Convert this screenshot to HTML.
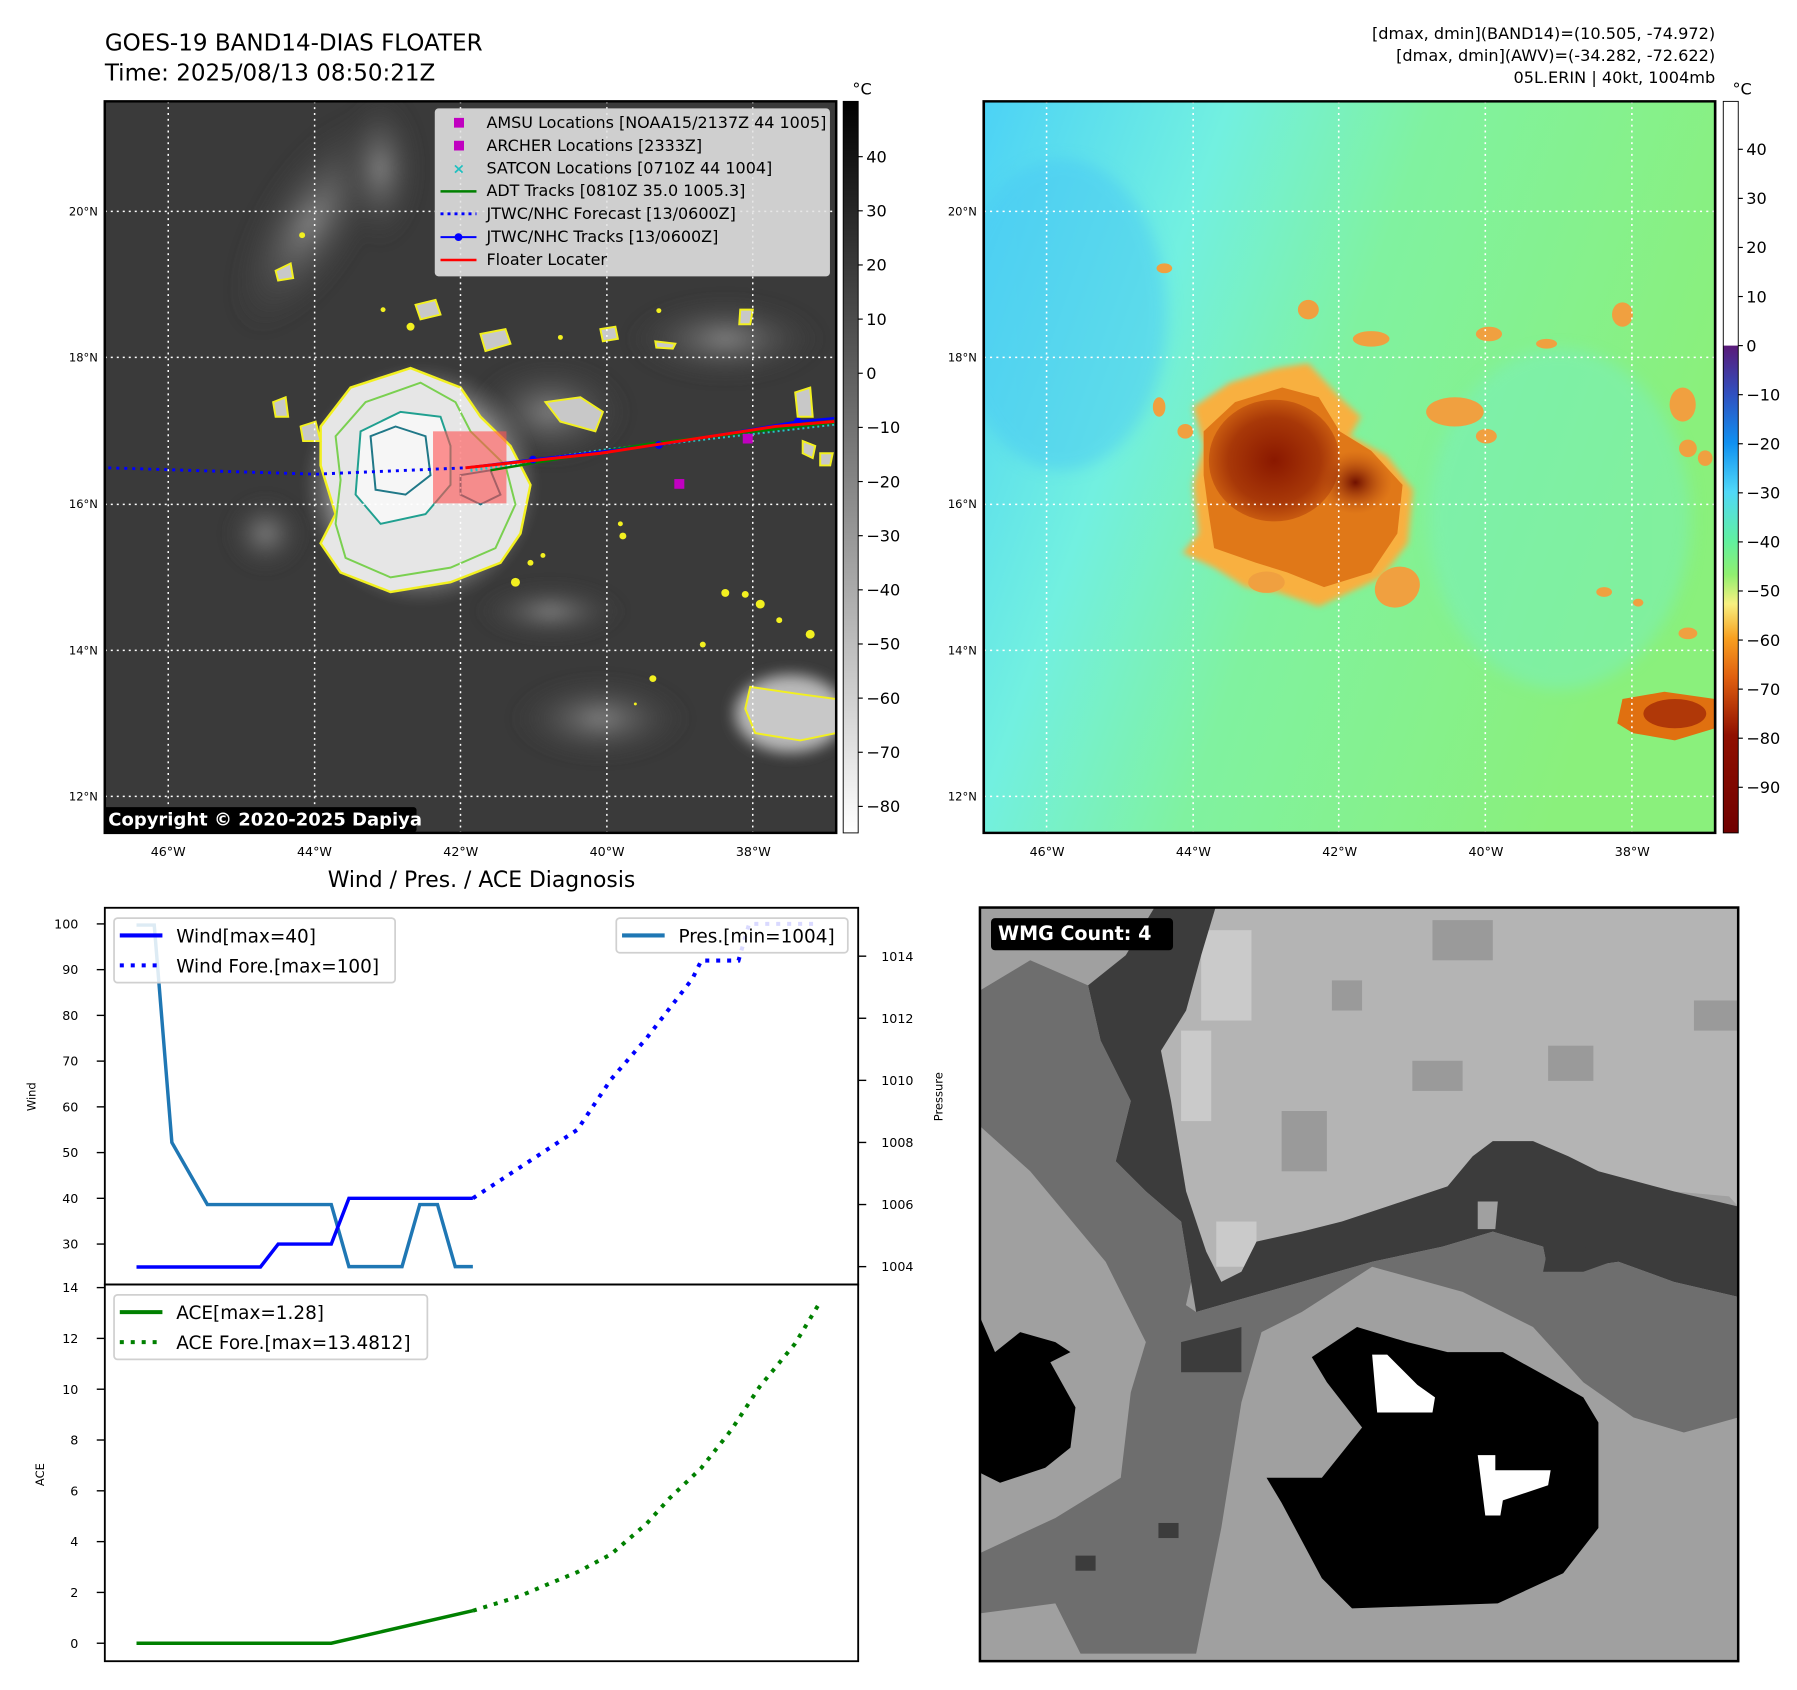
<!DOCTYPE html>
<html><head><meta charset="utf-8"><title>GOES-19 BAND14 Floater</title>
<style>html,body{margin:0;padding:0;background:#fff;}svg{display:block;}text{font-family:"DejaVu Sans","Liberation Sans",sans-serif;}</style></head>
<body>
<svg id="fig" width="1797" height="1690" viewBox="0 0 1560 1467" preserveAspectRatio="none" xmlns="http://www.w3.org/2000/svg">
<defs>
<linearGradient id="cbGray" x1="0" y1="0" x2="0" y2="1"><stop offset="0" stop-color="#000"/><stop offset="1" stop-color="#fff"/></linearGradient>
<linearGradient id="cbTop" x1="0" y1="0" x2="0" y2="1"><stop offset="0" stop-color="#fff"/><stop offset="1" stop-color="#fff"/></linearGradient>
<linearGradient id="cbJet" x1="0" y1="0" x2="0" y2="1">
<stop offset="0" stop-color="#5a1a78"/><stop offset="0.1" stop-color="#3050c0"/><stop offset="0.2" stop-color="#1090f0"/><stop offset="0.3" stop-color="#50d8f8"/><stop offset="0.4" stop-color="#60f0a0"/><stop offset="0.47" stop-color="#90f070"/><stop offset="0.53" stop-color="#f8f080"/><stop offset="0.6" stop-color="#f8a020"/><stop offset="0.68" stop-color="#e06010"/><stop offset="0.8" stop-color="#901000"/><stop offset="1" stop-color="#700000"/></linearGradient>
<linearGradient id="bgRight" x1="0" y1="0" x2="1" y2="0.35"><stop offset="0" stop-color="#4cd2f6"/><stop offset="0.3" stop-color="#72f0e0"/><stop offset="0.55" stop-color="#80f2a0"/><stop offset="1" stop-color="#8af07c"/></linearGradient>
<radialGradient id="stormGray" cx="0.5" cy="0.5" r="0.5"><stop offset="0" stop-color="#f4f4f4"/><stop offset="0.6" stop-color="#d8d8d8"/><stop offset="1" stop-color="#707070" stop-opacity="0"/></radialGradient>
<radialGradient id="cloudGray" cx="0.5" cy="0.5" r="0.5"><stop offset="0" stop-color="#8a8a8a"/><stop offset="1" stop-color="#3a3a3a" stop-opacity="0"/></radialGradient>
<radialGradient id="coreRed" cx="0.5" cy="0.5" r="0.5"><stop offset="0" stop-color="#8a1800"/><stop offset="0.7" stop-color="#a83808"/><stop offset="1" stop-color="#c85a10"/></radialGradient>
<radialGradient id="eyeRed" cx="0.5" cy="0.5" r="0.5"><stop offset="0" stop-color="#701000"/><stop offset="1" stop-color="#b84a10" stop-opacity="0"/></radialGradient>
<filter id="blur6"><feGaussianBlur stdDeviation="6"/></filter>
<filter id="blur15"><feGaussianBlur stdDeviation="15"/></filter>
<clipPath id="clipL"><rect x="8" y="12" width="1464" height="1503"/></clipPath>
<clipPath id="clipR"><rect x="0" y="12" width="1397" height="1503"/></clipPath>
<clipPath id="clipW"><rect x="0" y="15" width="1508" height="1500"/></clipPath>
</defs>

<!-- titles -->
<text x="91" y="44" font-size="20">GOES-19 BAND14-DIAS FLOATER</text>
<text x="91" y="70" font-size="20">Time: 2025/08/13 08:50:21Z</text>
<text x="1489" y="34" font-size="14" text-anchor="end">[dmax, dmin](BAND14)=(10.505, -74.972)</text>
<text x="1489" y="53" font-size="14" text-anchor="end">[dmax, dmin](AWV)=(-34.282, -72.622)</text>
<text x="1489" y="72" font-size="14" text-anchor="end">05L.ERIN | 40kt, 1004mb</text>

<!-- LEFT MAP -->
<g transform="matrix(0.4337 0 0 0.4225 87.5 82.9)">
 <g clip-path="url(#clipL)">
  <rect x="8" y="12" width="1464" height="1503" fill="#3a3a3a"/>
  <g filter="url(#blur15)" opacity="0.9">
   <ellipse cx="420" cy="260" rx="110" ry="260" fill="url(#cloudGray)" transform="rotate(30 420 260)"/>
   <ellipse cx="560" cy="150" rx="80" ry="160" fill="url(#cloudGray)"/>
   <ellipse cx="900" cy="650" rx="160" ry="110" fill="url(#cloudGray)"/>
   <ellipse cx="1250" cy="500" rx="200" ry="90" fill="url(#cloudGray)"/>
   <ellipse cx="1000" cy="1280" rx="180" ry="90" fill="url(#cloudGray)"/>
   <ellipse cx="330" cy="900" rx="80" ry="80" fill="url(#cloudGray)"/>
   <ellipse cx="900" cy="1060" rx="150" ry="60" fill="url(#cloudGray)"/>
   <ellipse cx="1380" cy="1270" rx="110" ry="80" fill="#c8c8c8"/>
  </g>
  <ellipse cx="640" cy="800" rx="240" ry="250" fill="url(#stormGray)" filter="url(#blur6)"/>
  <path d="M440,680 L500,600 L620,560 L720,600 L760,660 L820,720 L860,800 L840,900 L800,960 L700,1000 L580,1020 L480,980 L440,920 L470,860 L440,760 Z" fill="#e6e6e6" stroke="#f2f020" stroke-width="5"/>
  <path d="M470,700 L530,630 L640,590 L710,630 L740,690 L810,760 L830,840 L790,930 L700,970 L580,990 L490,950 L470,880 L480,790 Z" fill="none" stroke="#7ad050" stroke-width="4"/>
  <path d="M520,690 L600,650 L680,660 L700,720 L700,800 L650,860 L560,880 L510,820 Z" fill="#f6f6f6" stroke="#20a090" stroke-width="4"/>
  <path d="M540,700 L590,680 L650,700 L660,780 L610,820 L550,810 Z" fill="none" stroke="#207888" stroke-width="4"/>
  <path d="M720,780 L780,770 L800,820 L760,840 L720,820 Z" fill="none" stroke="#207888" stroke-width="4"/>
  <g fill="#c8c8c8" stroke="#f2f020" stroke-width="4">
   <path d="M630,430 L670,420 L680,450 L640,460 Z"/><path d="M760,490 L810,480 L820,510 L770,525 Z"/>
   <path d="M350,360 L380,345 L385,375 L355,380 Z"/><path d="M345,630 L370,620 L375,660 L350,660 Z"/>
   <path d="M400,680 L430,670 L440,710 L405,710 Z"/><path d="M1000,480 L1030,475 L1035,500 L1005,505 Z"/>
   <path d="M1280,440 L1305,440 L1300,470 L1278,470 Z"/><path d="M890,630 L960,620 L1005,650 L990,690 L920,670 Z"/>
   <path d="M1390,610 L1420,600 L1425,660 L1395,660 Z"/><path d="M1405,710 L1430,720 L1425,745 L1405,735 Z"/>
   <path d="M1440,735 L1465,735 L1460,760 L1440,760 Z"/><path d="M1110,505 L1150,510 L1145,520 L1112,518 Z"/>
   <path d="M1300,1215 L1400,1230 L1472,1240 L1472,1310 L1400,1325 L1310,1310 L1290,1260 Z"/>
  </g>
  <g fill="#f2f020">
   <circle cx="403" cy="287" r="6"/><circle cx="565" cy="440" r="5"/><circle cx="620" cy="475" r="8"/>
   <circle cx="920" cy="497" r="5"/><circle cx="1117" cy="442" r="5"/><circle cx="1040" cy="880" r="5"/>
   <circle cx="1045" cy="905" r="7"/><circle cx="860" cy="960" r="6"/><circle cx="830" cy="1000" r="9"/>
   <circle cx="1250" cy="1022" r="8"/><circle cx="1290" cy="1025" r="7"/><circle cx="1320" cy="1045" r="9"/>
   <circle cx="1358" cy="1078" r="6"/><circle cx="1420" cy="1107" r="9"/><circle cx="1205" cy="1128" r="6"/>
   <circle cx="1105" cy="1198" r="7"/><circle cx="1070" cy="1250" r="3"/><circle cx="885" cy="945" r="5"/>
  </g>
  <!-- grid -->
  <g stroke="#fff" stroke-width="3" stroke-dasharray="4,8">
   <line x1="135" y1="12" x2="135" y2="1515"/><line x1="428" y1="12" x2="428" y2="1515"/><line x1="720" y1="12" x2="720" y2="1515"/><line x1="1013" y1="12" x2="1013" y2="1515"/><line x1="1305" y1="12" x2="1305" y2="1515"/>
   <line x1="8" y1="238" x2="1472" y2="238"/><line x1="8" y1="538" x2="1472" y2="538"/><line x1="8" y1="840" x2="1472" y2="840"/><line x1="8" y1="1140" x2="1472" y2="1140"/><line x1="8" y1="1440" x2="1472" y2="1440"/>
  </g>
  <rect x="665" y="690" width="147" height="148" fill="#ff5050" opacity="0.6"/>
  <polyline points="15,765 430,778 730,765" fill="none" stroke="#0000ff" stroke-width="6" stroke-dasharray="6,10"/>
  <polyline points="740,770 1000,730 1468,675" fill="none" stroke="#20c8c8" stroke-width="7" stroke-dasharray="4,6"/>
  <polyline points="780,770 1100,715 1468,672" fill="none" stroke="#008000" stroke-width="5"/>
  <polyline points="730,765 865,748 1117,718 1395,670 1468,663" fill="none" stroke="#0000ff" stroke-width="5"/>
  <g fill="#0000ff"><circle cx="865" cy="748" r="8"/><circle cx="1117" cy="718" r="8"/><circle cx="1395" cy="670" r="8"/></g>
  <polyline points="730,765 1000,735 1350,680 1468,670" fill="none" stroke="#ff0000" stroke-width="6"/>
  <rect x="1285" y="695" width="20" height="20" fill="#c000c0"/><rect x="1148" y="788" width="20" height="20" fill="#c000c0"/>
  <!-- legend -->
  <g>
   <rect x="670" y="28" width="788" height="342" rx="6" fill="#e4e4e4" fill-opacity="0.88" stroke="#cfcfcf" stroke-width="3"/>
   <g font-size="32" fill="#000">
    <rect x="707" y="46" width="20" height="20" fill="#c000c0"/><text x="772" y="67">AMSU Locations [NOAA15/2137Z 44 1005]</text>
    <rect x="707" y="93" width="20" height="20" fill="#c000c0"/><text x="772" y="114">ARCHER Locations [2333Z]</text>
    <text x="704" y="160" fill="#20c0c0" font-weight="bold" font-size="30">×</text><text x="772" y="160">SATCON Locations [0710Z 44 1004]</text>
    <line x1="680" y1="197" x2="752" y2="197" stroke="#008000" stroke-width="5"/><text x="772" y="207">ADT Tracks [0810Z 35.0 1005.3]</text>
    <line x1="680" y1="243" x2="752" y2="243" stroke="#0000ff" stroke-width="6" stroke-dasharray="6,8"/><text x="772" y="254">JTWC/NHC Forecast [13/0600Z]</text>
    <line x1="680" y1="291" x2="752" y2="291" stroke="#0000ff" stroke-width="4"/><circle cx="716" cy="291" r="8" fill="#0000ff"/><text x="772" y="301">JTWC/NHC Tracks [13/0600Z]</text>
    <line x1="680" y1="338" x2="752" y2="338" stroke="#ff0000" stroke-width="5"/><text x="772" y="348">Floater Locater</text>
   </g>
  </g>
  <g>
   <rect x="5" y="1462" width="627" height="52" rx="6" fill="#000"/>
   <text x="15" y="1500" font-size="36" font-weight="bold" fill="#fff">Copyright © 2020-2025 Dapiya</text>
  </g>
 </g>
 <rect x="8" y="12" width="1464" height="1503" fill="none" stroke="#000" stroke-width="5"/>
</g>
<g font-size="10" text-anchor="end">
 <text x="85" y="187">20°N</text><text x="85" y="314">18°N</text><text x="85" y="441">16°N</text><text x="85" y="568">14°N</text><text x="85" y="695">12°N</text>
</g>
<g font-size="11" text-anchor="middle">
 <text x="146" y="743">46°W</text><text x="273" y="743">44°W</text><text x="400" y="743">42°W</text><text x="527" y="743">40°W</text><text x="654" y="743">38°W</text>
</g>
<g>
 <rect x="732" y="88" width="13" height="635" fill="url(#cbGray)" stroke="#000" stroke-width="0.8"/>
 <text x="740" y="82" font-size="14">°C</text>
 <g font-size="14" id="cbLticks"></g>
</g>

<!-- RIGHT MAP -->
<g transform="matrix(0.4545 0 0 0.4225 854 82.9)">
 <g clip-path="url(#clipR)">
  <rect x="0" y="12" width="1397" height="1503" fill="url(#bgRight)"/>
  <ellipse cx="150" cy="450" rx="200" ry="320" fill="#48c8f4" opacity="0.5" filter="url(#blur15)"/>
  <ellipse cx="1100" cy="870" rx="250" ry="350" fill="#78f0c0" opacity="0.5" filter="url(#blur15)"/>
  <path d="M400,640 L470,590 L560,560 L620,550 L680,620 L720,660 L700,700 L770,740 L820,810 L810,920 L760,990 L680,1030 L640,1050 L560,1020 L500,1010 L440,970 L380,940 L410,900 L400,800 L420,720 Z" fill="#f8b040" filter="url(#blur6)"/>
  <path d="M420,690 L480,630 L570,600 L640,620 L680,690 L740,730 L800,800 L790,900 L740,980 L650,1010 L580,980 L520,960 L440,930 L430,860 L420,780 Z" fill="#e07818"/>
  <ellipse cx="555" cy="750" rx="125" ry="125" fill="url(#coreRed)"/>
  <ellipse cx="710" cy="795" rx="70" ry="65" fill="url(#eyeRed)"/>
  <g fill="#f0a040">
   <ellipse cx="620" cy="440" rx="20" ry="20"/><ellipse cx="740" cy="500" rx="35" ry="16"/><ellipse cx="335" cy="640" rx="12" ry="20"/>
   <ellipse cx="385" cy="690" rx="15" ry="15"/><ellipse cx="900" cy="650" rx="55" ry="30"/><ellipse cx="960" cy="700" rx="20" ry="15"/>
   <ellipse cx="1335" cy="635" rx="25" ry="35"/><ellipse cx="1345" cy="725" rx="17" ry="18"/><ellipse cx="1378" cy="745" rx="14" ry="16"/>
   <ellipse cx="1220" cy="450" rx="20" ry="25"/><ellipse cx="965" cy="490" rx="25" ry="15"/><ellipse cx="1075" cy="510" rx="20" ry="10"/>
   <ellipse cx="345" cy="355" rx="15" ry="10"/><ellipse cx="1185" cy="1020" rx="15" ry="10"/><ellipse cx="1250" cy="1042" rx="10" ry="8"/>
   <ellipse cx="1345" cy="1105" rx="18" ry="12"/><ellipse cx="790" cy="1010" rx="45" ry="40" transform="rotate(-40 790 1010)"/>
   <ellipse cx="540" cy="1000" rx="35" ry="22"/>
  </g>
  <path d="M1220,1240 L1300,1225 L1397,1240 L1397,1300 L1320,1325 L1240,1310 L1210,1290 Z" fill="#e07010"/>
  <ellipse cx="1320" cy="1270" rx="60" ry="30" fill="#b03808"/>
  <g stroke="#fff" stroke-width="3" stroke-dasharray="4,8">
   <line x1="120" y1="12" x2="120" y2="1515"/><line x1="400" y1="12" x2="400" y2="1515"/><line x1="678" y1="12" x2="678" y2="1515"/><line x1="958" y1="12" x2="958" y2="1515"/><line x1="1238" y1="12" x2="1238" y2="1515"/>
   <line x1="0" y1="238" x2="1397" y2="238"/><line x1="0" y1="538" x2="1397" y2="538"/><line x1="0" y1="840" x2="1397" y2="840"/><line x1="0" y1="1140" x2="1397" y2="1140"/><line x1="0" y1="1440" x2="1397" y2="1440"/>
  </g>
 </g>
 <rect x="0" y="12" width="1397" height="1503" fill="none" stroke="#000" stroke-width="5"/>
</g>
<g font-size="10" text-anchor="end">
 <text x="848" y="187">20°N</text><text x="848" y="314">18°N</text><text x="848" y="441">16°N</text><text x="848" y="568">14°N</text><text x="848" y="695">12°N</text>
</g>
<g font-size="11" text-anchor="middle">
 <text x="909" y="743">46°W</text><text x="1036" y="743">44°W</text><text x="1163" y="743">42°W</text><text x="1290" y="743">40°W</text><text x="1417" y="743">38°W</text>
</g>
<g>
 <rect x="1496" y="88" width="13" height="212" fill="#fff"/>
 <rect x="1496" y="300" width="13" height="423" fill="url(#cbJet)"/>
 <rect x="1496" y="88" width="13" height="635" fill="none" stroke="#000" stroke-width="0.8"/>
 <text x="1504" y="82" font-size="14">°C</text>
 <g font-size="14" id="cbRticks"></g>
</g>

<!-- WIND/PRES/ACE CHART -->
<text x="418" y="770" font-size="19" text-anchor="middle">Wind / Pres. / ACE Diagnosis</text>
<g id="chart">
 <rect x="91" y="788" width="654" height="654" fill="#fff"/>
</g>

<!-- WMG PANEL -->
<g transform="matrix(0.4365 0 0 0.4361 850.7 781.25)">
 <g clip-path="url(#clipW)">
  <rect x="0" y="15" width="1508" height="1500" fill="#a0a0a0"/>
  <path d="M470,10 L1508,10 L1508,610 L1490,590 L1380,580 L1230,540 L1170,510 L1100,480 L1020,480 L980,510 L930,570 L810,610 L720,640 L640,660 L550,680 L520,740 L480,760 L450,700 L410,580 L380,400 L360,300 L410,220 L440,110 Z" fill="#b4b4b4"/>
  <g fill="#949494" opacity="0.8">
   <rect x="900" y="40" width="120" height="80"/><rect x="1130" y="290" width="90" height="70"/><rect x="600" y="420" width="90" height="120"/>
   <rect x="860" y="320" width="100" height="60"/><rect x="1420" y="200" width="88" height="60"/><rect x="700" y="160" width="60" height="60"/>
  </g>
  <g fill="#cacaca"><rect x="440" y="60" width="100" height="180"/><rect x="400" y="260" width="60" height="180"/><rect x="470" y="640" width="80" height="90"/></g>
  <path d="M350,10 L470,10 L440,110 L410,220 L360,300 L380,400 L410,580 L450,700 L480,760 L520,740 L550,680 L640,660 L720,640 L810,610 L930,570 L980,510 L1020,480 L1100,480 L1170,510 L1230,540 L1380,580 L1508,610 L1508,790 L1380,760 L1270,720 L1130,740 L1120,690 L1020,660 L920,690 L780,720 L640,760 L500,800 L430,820 L420,760 L400,640 L330,580 L270,520 L300,400 L240,280 L215,170 L290,110 Z" fill="#3c3c3c"/>
  <path d="M430,820 L640,760 L780,720 L920,690 L1020,660 L1120,690 L1130,740 L1270,720 L1380,760 L1508,790 L1508,1030 L1400,1060 L1300,1030 L1200,960 L1100,850 L960,780 L780,730 L640,820 L560,860 L520,1000 L480,1250 L430,1500 L200,1500 L150,1400 L0,1420 L0,1300 L150,1230 L280,1150 L300,980 L330,880 L400,800 Z" fill="#6e6e6e"/>
  <path d="M0,180 L100,120 L215,170 L240,280 L300,400 L270,520 L330,580 L400,640 L420,760 L400,850 L330,880 L250,720 L100,540 L0,450 Z" fill="#6e6e6e"/>
  <path d="M990,600 L1030,600 L1025,655 L990,655 Z" fill="#a0a0a0"/>
  <path d="M1130,690 L1200,690 L1270,715 L1200,740 L1120,740 Z" fill="#3c3c3c"/>
  <path d="M400,880 L520,850 L520,940 L400,940 Z" fill="#3c3c3c"/>
  <path d="M660,910 L750,850 L850,880 L930,900 L1040,900 L1130,950 L1200,990 L1230,1040 L1230,1250 L1160,1340 L1030,1400 L740,1410 L680,1350 L600,1200 L570,1150 L680,1150 L760,1050 L690,960 Z" fill="#000"/>
  <path d="M0,830 L30,900 L80,860 L150,880 L180,900 L140,920 L190,1010 L180,1090 L130,1130 L40,1160 L0,1140 Z" fill="#000"/>
  <path d="M780,905 L810,905 L840,935 L870,965 L905,990 L900,1020 L790,1020 Z" fill="#fff"/>
  <path d="M990,1105 L1025,1105 L1025,1135 L1135,1135 L1130,1165 L1040,1195 L1035,1225 L1005,1225 Z" fill="#fff"/>
  <rect x="355" y="1240" width="40" height="30" fill="#3c3c3c"/><rect x="190" y="1305" width="40" height="30" fill="#3c3c3c"/>
 </g>
 <rect x="0" y="15" width="1508" height="1500" fill="none" stroke="#000" stroke-width="5"/>
 <g>
  <rect x="22" y="36" width="362" height="64" rx="8" fill="#000"/>
  <text x="36" y="80" font-size="38" font-weight="bold" fill="#fff">WMG Count: 4</text>
 </g>
</g>

<script>
// ---- chart data ----
const windT = [0, 7, 8, 11, 12, 19];
const windV = [25, 25, 30, 30, 40, 40];
const windForeT = [19, 24.9, 26.8, 28.8, 31.4, 31.9, 34, 34.6, 38.5];
const windForeV = [40, 55, 66, 75, 88, 92, 92, 100, 100];
const presT = [0, 1, 2, 4, 11, 12, 15, 16, 17, 18, 19];
const presV = [1015, 1015, 1008, 1006, 1006, 1004, 1004, 1006, 1006, 1004, 1004];
const aceT = [0, 11, 19];
const aceV = [0, 0, 1.28];
const aceForeT = [19, 21.6, 23.5, 24.9, 26.8, 28.8, 30.1, 31.9, 33.6, 35.2, 37.2, 38.5];
const aceForeV = [1.28, 1.84, 2.4, 2.8, 3.5, 4.7, 5.7, 6.9, 8.4, 10.1, 11.8, 13.3];
const windTicks = [30, 40, 50, 60, 70, 80, 90, 100];
const presTicks = [1004, 1006, 1008, 1010, 1012, 1014];
const aceTicks = [0, 2, 4, 6, 8, 10, 12, 14];
const cbLeftTicks = [40, 30, 20, 10, 0, -10, -20, -30, -40, -50, -60, -70, -80];
const cbRightTicks = [40, 30, 20, 10, 0, -10, -20, -30, -40, -50, -60, -70, -80, -90];

const NS = 'http://www.w3.org/2000/svg';
const xS = t => 118.5 + 15.37 * t;
const yW = v => 1040.2 - (v - 40) * 3.97;
const yP = p => 830 - (p - 1014) * 26.95;
const yA = a => 1426.4 - a * 22.05;
const chart = document.getElementById('chart');
function mk(tag, attrs, parent) {
  const e = document.createElementNS(NS, tag);
  for (const k in attrs) e.setAttribute(k, attrs[k]);
  (parent || chart).appendChild(e);
  return e;
}
function pts(ts, vs, yf) { return ts.map((t, i) => xS(t).toFixed(1) + ',' + yf(vs[i]).toFixed(1)).join(' '); }

let el;
el = mk('polyline', {points: pts(presT, presV, yP), fill: 'none', stroke: '#1f77b4', 'stroke-width': 3});


el = mk('polyline', {points: pts(windT, windV, yW), fill: 'none', stroke: '#0000ff', 'stroke-width': 3});


el = mk('polyline', {points: pts(windForeT, windForeV, yW), fill: 'none', stroke: '#0000ff', 'stroke-width': 3.5, 'stroke-dasharray': '3.5,6'});


el = mk('polyline', {points: pts(aceT, aceV, yA), fill: 'none', stroke: '#008000', 'stroke-width': 3});


el = mk('polyline', {points: pts(aceForeT, aceForeV, yA), fill: 'none', stroke: '#008000', 'stroke-width': 3.5, 'stroke-dasharray': '3.5,6'});



// frames
mk('rect', {x: 91, y: 788, width: 654, height: 327, fill: 'none', stroke: '#000', 'stroke-width': 1.6});
mk('rect', {x: 91, y: 1115, width: 654, height: 327, fill: 'none', stroke: '#000', 'stroke-width': 1.6});

windTicks.forEach(v => {
  mk('line', {x1: 84, x2: 91, y1: yW(v), y2: yW(v), stroke: '#000', 'stroke-width': 1.2});
  el = mk('text', {x: 68, y: yW(v) + 4, 'font-size': 11, 'text-anchor': 'end'});
  
  
  el.textContent = v;
});
presTicks.forEach(p => {
  mk('line', {x1: 745, x2: 752, y1: yP(p), y2: yP(p), stroke: '#000', 'stroke-width': 1.2});
  el = mk('text', {x: 765, y: yP(p) + 4, 'font-size': 11});
  
  
  el.textContent = p;
});
aceTicks.forEach(a => {
  mk('line', {x1: 84, x2: 91, y1: yA(a), y2: yA(a), stroke: '#000', 'stroke-width': 1.2});
  el = mk('text', {x: 68, y: yA(a) + 4, 'font-size': 11, 'text-anchor': 'end'});
  
  
  el.textContent = a;
});
el = mk('text', {x: 31, y: 952, 'font-size': 10, 'text-anchor': 'middle', transform: 'rotate(-90 31 952)'});


el.textContent = 'Wind';
el = mk('text', {x: 818, y: 952, 'font-size': 10, 'text-anchor': 'middle', transform: 'rotate(-90 818 952)'});


el.textContent = 'Pressure';
el = mk('text', {x: 38, y: 1280, 'font-size': 10, 'text-anchor': 'middle', transform: 'rotate(-90 38 1280)'});


el.textContent = 'ACE';

function legend(name, x, y, w, entries) {
  const g = mk('g', {});
  
  
  mk('rect', {x: x, y: y, width: w, height: entries.length * 26 + 4, rx: 3, fill: '#fff', 'fill-opacity': 0.85, stroke: '#d0d0d0', 'stroke-width': 1.5}, g);
  entries.forEach((e, i) => {
    const ly = y + 15 + i * 26;
    const a = {x1: x + 5, x2: x + 42, y1: ly, y2: ly, stroke: e.c, 'stroke-width': 3.5};
    if (e.d) a['stroke-dasharray'] = '3.5,6';
    mk('line', a, g);
    const t = mk('text', {x: x + 54, y: ly + 6, 'font-size': 16}, g);
    t.textContent = e.t;
  });
}
legend('wind-legend', 99, 797, 244, [{c: '#0000ff', t: 'Wind[max=40]'}, {c: '#0000ff', t: 'Wind Fore.[max=100]', d: 1}]);
legend('pressure-legend', 535, 797, 201, [{c: '#1f77b4', t: 'Pres.[min=1004]'}]);
legend('ace-legend', 99, 1124, 272, [{c: '#008000', t: 'ACE[max=1.28]'}, {c: '#008000', t: 'ACE Fore.[max=13.4812]', d: 1}]);

// colorbar ticks
const cbL = document.getElementById('cbLticks');
cbLeftTicks.forEach(v => {
  const y = 136 + (40 - v) * 4.7;
  mk('line', {x1: 745, x2: 749, y1: y, y2: y, stroke: '#000'}, cbL);
  el = mk('text', {x: 752, y: y + 5}, cbL);
  
  
  el.textContent = v < 0 ? '\u2212' + (-v) : v;
});
const cbR = document.getElementById('cbRticks');
cbRightTicks.forEach(v => {
  const y = 300 - v * 4.26;
  mk('line', {x1: 1509, x2: 1513, y1: y, y2: y, stroke: '#000'}, cbR);
  el = mk('text', {x: 1516, y: y + 5}, cbR);
  
  
  el.textContent = v < 0 ? '\u2212' + (-v) : v;
});
</script>
</svg>
</body></html>
